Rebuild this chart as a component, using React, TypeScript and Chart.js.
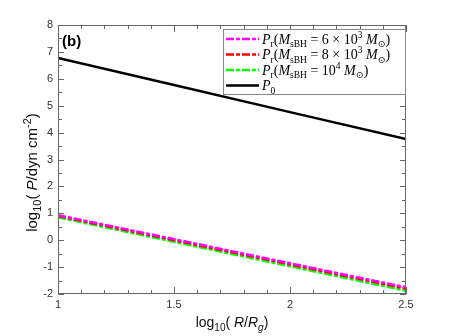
import React, { useEffect, useRef } from 'react';
import { Chart, registerables } from 'chart.js';

Chart.register(...registerables);

// ---- data ----
const xValues = [1, 1.5, 2, 2.5];
const prM6e3 = [0.93, 0.04, -0.86, -1.75];
const prM8e3 = [0.9, 0.0, -0.9, -1.8];
const prM1e4 = [0.85, -0.06, -0.97, -1.88];
const p0Values = [6.77, 5.77, 4.76, 3.76];

const xMin = 1;
const xMax = 2.5;
const xMajorStep = 0.5;
const xMinorStep = 0.1;
const yMin = -2;
const yMax = 8;
const yMajorStep = 1;
const yMinorStep = 0.5;

const seriesColors = ['#ff00ff', '#ff0000', '#00ff00', '#000000'];
const seriesDash: number[][] = [[8, 2, 4, 2], [8, 2, 4, 2], [8, 2, 4, 2], []];

type Seg = { t: string; k?: 'n' | 'i' | 'sub' | 'sup' | 'isub' };

const legendLabels: Seg[][] = [
  [{ t: 'P', k: 'i' }, { t: 'r', k: 'sub' }, { t: '(' }, { t: 'M', k: 'i' }, { t: 'sBH', k: 'sub' }, { t: ' = 6 × 10' }, { t: '3', k: 'sup' }, { t: ' ' }, { t: 'M', k: 'i' }, { t: '⊙', k: 'sub' }, { t: ')' }],
  [{ t: 'P', k: 'i' }, { t: 'r', k: 'sub' }, { t: '(' }, { t: 'M', k: 'i' }, { t: 'sBH', k: 'sub' }, { t: ' = 8 × 10' }, { t: '3', k: 'sup' }, { t: ' ' }, { t: 'M', k: 'i' }, { t: '⊙', k: 'sub' }, { t: ')' }],
  [{ t: 'P', k: 'i' }, { t: 'r', k: 'sub' }, { t: '(' }, { t: 'M', k: 'i' }, { t: 'sBH', k: 'sub' }, { t: ' = 10' }, { t: '4', k: 'sup' }, { t: ' ' }, { t: 'M', k: 'i' }, { t: '⊙', k: 'sub' }, { t: ')' }],
  [{ t: 'P', k: 'i' }, { t: '0', k: 'sub' }],
];

const xTitle: Seg[] = [{ t: 'log' }, { t: '10', k: 'sub' }, { t: '( ' }, { t: 'R', k: 'i' }, { t: '/' }, { t: 'R', k: 'i' }, { t: 'g', k: 'isub' }, { t: ')' }];
const yTitle: Seg[] = [{ t: 'log' }, { t: '10', k: 'sub' }, { t: '( ' }, { t: 'P', k: 'i' }, { t: '/dyn cm' }, { t: '-2', k: 'sup' }, { t: ')' }];
const panelLabel = '(b)';

const SANS = "'Liberation Sans', Arial, Helvetica, sans-serif";
const SERIF = "'Liberation Serif', 'DejaVu Serif', 'Times New Roman', serif";

function drawRich(
  ctx: CanvasRenderingContext2D,
  segs: Seg[],
  x: number,
  y: number,
  size: number,
  subSize: number,
  family: string,
  align: 'left' | 'center'
) {
  const isSmall = (k?: string) => k === 'sub' || k === 'sup' || k === 'isub';
  const fontFor = (k?: string) =>
    `${k === 'i' || k === 'isub' ? 'italic ' : ''}${isSmall(k) ? subSize : size}px ${family}`;
  const offFor = (k?: string) => (k === 'sub' || k === 'isub' ? size * 0.28 : k === 'sup' ? -size * 0.4 : 0);
  const widths = segs.map((s) => {
    ctx.font = fontFor(s.k);
    return ctx.measureText(s.t).width;
  });
  const total = widths.reduce((a, b) => a + b, 0);
  let cx = align === 'center' ? x - total / 2 : x;
  ctx.textAlign = 'left';
  ctx.textBaseline = 'alphabetic';
  segs.forEach((s, i) => {
    ctx.font = fontFor(s.k);
    ctx.fillText(s.t, cx, y + offFor(s.k));
    cx += widths[i];
  });
}

const decorPlugin = {
  id: 'decor',
  afterDraw(chart: any) {
    const ctx: CanvasRenderingContext2D = chart.ctx;
    const { left, right, top, bottom } = chart.chartArea;
    const xs = chart.scales.x;
    const ys = chart.scales.y;
    ctx.save();

    // frame
    ctx.strokeStyle = '#666';
    ctx.lineWidth = 1;
    ctx.strokeRect(Math.round(left) + 0.5, Math.round(top) + 0.5, Math.round(right - left) - 1, Math.round(bottom - top) - 1);

    // inward ticks on all four sides
    ctx.beginPath();
    const nX = Math.round((xMax - xMin) / xMinorStep);
    for (let i = 0; i <= nX; i++) {
      const v = xMin + i * xMinorStep;
      const major = Math.abs(v / xMajorStep - Math.round(v / xMajorStep)) < 1e-6;
      const len = major ? 7 : 4;
      const px = Math.round(xs.getPixelForValue(v)) + 0.5;
      ctx.moveTo(px, bottom);
      ctx.lineTo(px, bottom - len);
      ctx.moveTo(px, top);
      ctx.lineTo(px, top + len);
    }
    const nY = Math.round((yMax - yMin) / yMinorStep);
    for (let i = 0; i <= nY; i++) {
      const v = yMin + i * yMinorStep;
      const major = Math.abs(v / yMajorStep - Math.round(v / yMajorStep)) < 1e-6;
      const len = major ? 6 : 4;
      const py = Math.round(ys.getPixelForValue(v)) + 0.5;
      ctx.moveTo(left, py);
      ctx.lineTo(left + len, py);
      ctx.moveTo(right, py);
      ctx.lineTo(right - len, py);
    }
    ctx.stroke();

    // panel label
    ctx.fillStyle = '#000';
    ctx.font = `bold 15px ${SANS}`;
    ctx.textAlign = 'left';
    ctx.textBaseline = 'alphabetic';
    ctx.fillText(panelLabel, left + 4, top + 21);

    // axis titles
    ctx.fillStyle = '#111';
    drawRich(ctx, xTitle, (left + right) / 2, 327, 14, 10, SANS, 'center');
    ctx.save();
    ctx.translate(37, (top + bottom) / 2 + 13);
    ctx.rotate(-Math.PI / 2);
    drawRich(ctx, yTitle, 0, 0, 15, 11, SANS, 'center');
    ctx.restore();

    // legend
    const bx = 223;
    const by = top + 4;
    const bw = right - bx;
    const bh = 66;
    ctx.fillStyle = '#fff';
    ctx.fillRect(bx, by, bw, bh);
    ctx.strokeStyle = '#888';
    ctx.lineWidth = 1;
    ctx.strokeRect(bx + 0.5, by + 0.5, bw - 1, bh - 1);
    legendLabels.forEach((segs, i) => {
      const cy = by + 10 + i * 15.5;
      ctx.save();
      ctx.strokeStyle = seriesColors[i];
      ctx.lineWidth = 2.5;
      ctx.setLineDash(seriesDash[i]);
      ctx.beginPath();
      ctx.moveTo(bx + 3, cy);
      ctx.lineTo(bx + 36, cy);
      ctx.stroke();
      ctx.restore();
      ctx.fillStyle = '#000';
      drawRich(ctx, segs, bx + 39, cy + 4.5, 14, 9.5, SERIF, 'left');
    });

    ctx.restore();
  },
};

export default function App() {
  const canvasRef = useRef<HTMLCanvasElement | null>(null);

  useEffect(() => {
    document.body.style.margin = '0';
    const canvas = canvasRef.current;
    if (!canvas) return;
    const series = [prM6e3, prM8e3, prM1e4, p0Values];
    const chart = new Chart(canvas, {
      type: 'line',
      data: {
        datasets: series.map((vals, i) => ({
          label: `s${i}`,
          data: xValues.map((x, j) => ({ x, y: vals[j] })),
          borderColor: seriesColors[i],
          backgroundColor: seriesColors[i],
          borderWidth: 2.5,
          borderDash: seriesDash[i],
          pointRadius: 0,
          fill: false,
          tension: 0,
        })),
      },
      options: {
        animation: false,
        responsive: false,
        maintainAspectRatio: false,
        layout: { padding: { top: 25, right: 43, left: 0, bottom: 0 } },
        plugins: {
          legend: { display: false },
          tooltip: { enabled: false },
          title: { display: false },
        },
        scales: {
          x: {
            type: 'linear',
            min: xMin,
            max: xMax,
            grid: { display: false, drawTicks: false },
            border: { display: false },
            ticks: {
              stepSize: xMajorStep,
              padding: 4,
              color: '#333',
              font: { family: SANS, size: 11 },
              maxRotation: 0,
              callback: (v: any) => String(Number(v)),
            },
            afterFit: (scale: any) => {
              scale.height = 42;
            },
          },
          y: {
            type: 'linear',
            min: yMin,
            max: yMax,
            grid: { display: false, drawTicks: false },
            border: { display: false },
            ticks: {
              stepSize: yMajorStep,
              padding: 5,
              color: '#333',
              font: { family: SANS, size: 11 },
              callback: (v: any) => String(Number(v)),
            },
            afterFit: (scale: any) => {
              scale.width = 58;
            },
          },
        },
      },
      plugins: [decorPlugin],
    } as any);
    return () => chart.destroy();
  }, []);

  return (
    <div style={{ width: 449, height: 336 }}>
      <canvas ref={canvasRef} width={449} height={336} />
    </div>
  );
}
